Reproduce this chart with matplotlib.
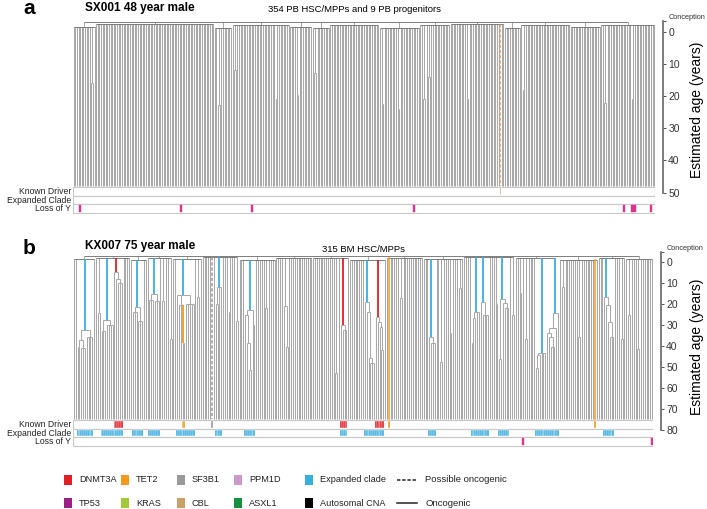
import matplotlib
matplotlib.use('Agg')
import matplotlib.pyplot as plt
from matplotlib.patches import Rectangle
from matplotlib.collections import LineCollection

plt.rcParams['font.family'] = ['Liberation Sans', 'DejaVu Sans']

# ---------------------------------------------------------------- data
GENE_COLORS = {'DNMT3A': '#E41E26', 'TET2': '#F39A1E', 'SF3B1': '#9A9A9A', 'PPM1D': '#C99AC9',
               'TP53': '#9C1F87', 'KRAS': '#A3C93A', 'CBL': '#C8A06A', 'ASXL1': '#168F3E',
               'Autosomal CNA': '#000000'}
EXPANDED_COLOR = '#3BAEE0'
LOY_COLOR = '#E0338C'

# Panel a : SX001
A_N_LEAVES = 363
A_SAMPLE_AGE = 48
A_CONCEPTION = -3.4
A_ROOT_AGE = -3.0
A_AXIS_MAX = 50
A_BLOCK_SIZES = [14, 74, 11, 36, 14, 11, 31, 25, 19, 34, 10, 31, 19, 34]
A_BLOCK_AGES = [-1.5, -2.5, -1.0, -2.0, -1.5, -1.0, -2.0, -1.0, -2.0, -2.5, -1.0, -2.0, -1.5, -2.0]
# (first leaf, number of leaves, coalescence age, annotation)
A_CLADES = [(11, 2, 16.0, 'grey'), (90, 2, 22.7, 'grey'), (100, 2, 12.0, 'grey'),
            (126, 2, 21.0, 'grey'), (139, 2, 19.6, 'grey'), (150, 2, 12.7, 'grey'),
            (192, 2, 22.6, 'grey'), (202, 2, 24.0, 'grey'), (218, 2, 21.0, 'grey'),
            (221, 2, 14.0, 'grey'), (245, 2, 21.0, 'grey'), (280, 2, 18.0, 'grey'),
            (331, 2, 22.0, 'grey'), (348, 2, 21.0, 'grey')]
A_SINGLE_DRIVERS = [(266, 'CBL', 'possible')]
A_LOSS_OF_Y = [4, 67, 111, 212, 343, 348, 349, 350, 360]

# Panel b : KX007
B_N_LEAVES = 315
B_SAMPLE_AGE = 75
B_CONCEPTION = -4.8
B_ROOT_AGE = -2.8
B_AXIS_MAX = 80
B_BLOCK_SIZES = [12, 19, 9, 14, 16, 20, 20, 20, 20, 20, 20, 22, 28, 24, 21, 15, 15]
B_BLOCK_AGES = [-1.2, -2.0, -0.8, -1.6, -1.2, -2.3, -0.8, -1.6, -2.0, -0.8, -1.6, -1.2,
                -2.3, -1.6, -0.8, -2.0, -1.2]
B_CLADES = [
    (2, 9, 32.5, 'expanded'), (2, 5, 37.5, 'grey'), (2, 2, 40.5, 'grey'), (4, 3, 41.0, 'grey'),
    (7, 4, 36.0, 'grey'),
    (13, 2, 24.5, 'grey'),
    (15, 7, 27.8, 'expanded'), (15, 3, 33.0, 'grey'), (18, 4, 30.0, 'grey'),
    (22, 5, 4.8, 'DNMT3A'), (23, 4, 8.0, 'grey'), (24, 3, 10.0, 'grey'),
    (32, 6, 21.4, 'expanded'), (32, 3, 24.0, 'grey'), (35, 3, 28.0, 'grey'),
    (41, 6, 15.4, 'expanded'), (41, 3, 18.0, 'grey'), (44, 3, 18.5, 'grey'),
    (48, 2, 18.7, 'grey'), (52, 2, 37.0, 'grey'),
    (56, 10, 15.9, 'expanded'), (57, 4, 20.7, 'grey'), (59, 2, 38.8, 'TET2'), (61, 5, 20.0, 'grey'),
    (67, 2, 17.0, 'grey'),
    (77, 4, 11.9, 'expanded'), (77, 2, 20.0, 'grey'),
    (84, 2, 24.0, 'grey'), (88, 2, 28.0, 'grey'),
    (93, 6, 23.0, 'expanded'), (93, 4, 25.6, 'grey'), (94, 3, 38.8, 'grey'), (95, 2, 51.6, 'grey'),
    (97, 2, 30.0, 'grey'),
    (104, 2, 22.0, 'grey'),
    (114, 3, 21.0, 'grey'), (115, 2, 40.6, 'grey'),
    (142, 2, 53.0, 'grey'),
    (145, 4, 30.0, 'DNMT3A'), (146, 3, 32.5, 'grey'),
    (158, 6, 19.0, 'expanded'), (159, 5, 24.0, 'grey'), (160, 4, 46.0, 'grey'), (161, 3, 48.0, 'grey'),
    (164, 5, 26.5, 'DNMT3A'), (165, 4, 28.5, 'grey'), (166, 3, 31.0, 'grey'), (167, 2, 42.0, 'grey'),
    (177, 2, 17.4, 'grey'),
    (193, 4, 36.0, 'expanded'), (194, 3, 38.5, 'grey'),
    (199, 2, 47.6, 'grey'), (204, 2, 34.0, 'grey'), (209, 2, 12.5, 'grey'),
    (216, 5, 23.8, 'expanded'), (216, 3, 26.8, 'grey'), (216, 2, 38.9, 'grey'),
    (221, 5, 19.0, 'expanded'), (222, 4, 25.6, 'grey'),
    (229, 2, 20.0, 'grey'),
    (231, 6, 17.8, 'expanded'), (231, 2, 46.5, 'grey'), (233, 4, 19.7, 'grey'), (234, 3, 22.0, 'grey'),
    (238, 2, 25.6, 'grey'), (242, 2, 14.7, 'grey'), (245, 2, 36.9, 'grey'),
    (251, 6, 43.5, 'expanded'), (251, 3, 44.4, 'grey'), (251, 2, 50.6, 'grey'),
    (257, 7, 24.5, 'expanded'), (257, 6, 31.6, 'grey'), (257, 5, 34.0, 'grey'), (258, 4, 36.0, 'grey'),
    (259, 3, 40.6, 'grey'),
    (265, 2, 11.9, 'grey'), (274, 2, 36.0, 'grey'),
    (288, 6, 16.7, 'expanded'), (289, 5, 20.7, 'grey'), (290, 4, 28.6, 'grey'), (291, 3, 36.0, 'grey'),
    (297, 2, 37.0, 'grey'), (301, 2, 25.2, 'grey'), (306, 2, 41.6, 'grey'),
]
B_SINGLE_DRIVERS = [(75, 'SF3B1', 'possible'), (171, 'TET2', 'oncogenic'), (283, 'TET2', 'oncogenic')]
B_LOSS_OF_Y = [244, 314]

LEGEND_ROW1 = ['DNMT3A', 'TET2', 'SF3B1', 'PPM1D', 'Expanded clade', 'Possible oncogenic']
LEGEND_ROW2 = ['TP53', 'KRAS', 'CBL', 'ASXL1', 'Autosomal CNA', 'Oncogenic']

# ---------------------------------------------------------------- figure
W, H = 707, 509
fig = plt.figure(figsize=(W / 100, H / 100), dpi=100)
GREY = '#a9a9a9'
GREY_TOP = '#6a6a6a'


def kind_color(kind):
    if kind == 'expanded':
        return EXPANDED_COLOR
    return GENE_COLORS.get(kind)


def draw_panel(box, zero_px, px_per_year, n, sample_age, conception, root_age, axis_max,
               block_sizes, block_ages, clades, singles, loss_of_y):
    x0, x1, y0, y1 = box
    ax = fig.add_axes([x0 / W, 1 - y1 / H, (x1 - x0) / W, (y1 - y0) / H])
    to_age = lambda py: (py - zero_px) / px_per_year
    ax.set_xlim(-0.5, n - 0.5)
    ax.set_ylim(to_age(y1), to_age(y0))

    # ---- build tree nodes
    nodes = [dict(lo=0, hi=n - 1, age=root_age, kind='grey')]
    s = 0
    for size, age in zip(block_sizes, block_ages):
        nodes.append(dict(lo=s, hi=s + size - 1, age=age, kind='grey'))
        s += size
    for first, size, age, kind in clades:
        nodes.append(dict(lo=first, hi=first + size - 1, age=age, kind=kind))
    span = lambda nd: nd['hi'] - nd['lo']
    for i, nd in enumerate(nodes):
        best = None
        for j, o in enumerate(nodes):
            if j != i and o['lo'] <= nd['lo'] and o['hi'] >= nd['hi'] and span(o) > span(nd):
                if best is None or span(nodes[best]) > span(o):
                    best = j
        nd['parent'] = best
    leaf_parent = []
    for leaf in range(n):
        best = None
        for j, nd in enumerate(nodes):
            if nd['lo'] <= leaf <= nd['hi'] and (best is None or span(nodes[best]) > span(nd)):
                best = j
        leaf_parent.append(best)
    for i in sorted(range(len(nodes)), key=lambda k: span(nodes[k])):
        nd = nodes[i]
        xs = [lf for lf in range(nd['lo'], nd['hi'] + 1) if leaf_parent[lf] == i]
        xs += [nodes[j]['x'] for j in range(len(nodes)) if nodes[j]['parent'] == i]
        nd['x'] = (min(xs) + max(xs)) / 2
        nd['xmin'], nd['xmax'] = min(xs), max(xs)

    grey_segs, top_segs, col_segs, col_cols = [], [], [], []
    for nd in nodes:
        hseg = [(nd['xmin'], nd['age']), (nd['xmax'], nd['age'])]
        (top_segs if nd['age'] < 0 else grey_segs).append(hseg)
        if nd['parent'] is None:
            continue
        seg = [(nd['x'], nodes[nd['parent']]['age']), (nd['x'], nd['age'])]
        c = kind_color(nd['kind'])
        if c is None:
            grey_segs.append(seg)
        else:
            col_segs.append(seg)
            col_cols.append(c)
    single_map = {lf: (g, st) for lf, g, st in singles}
    for leaf in range(n):
        seg = [(leaf, nodes[leaf_parent[leaf]]['age']), (leaf, sample_age)]
        if leaf in single_map:
            g, st = single_map[leaf]
            ax.plot([seg[0][0], seg[1][0]], [seg[0][1], seg[1][1]], color=GENE_COLORS[g],
                    lw=1.1, ls=(0, (2.2, 1.2)) if st == 'possible' else '-', zorder=4)
        else:
            grey_segs.append(seg)
    ax.add_collection(LineCollection(grey_segs, colors=GREY, linewidths=0.75, zorder=2))
    ax.add_collection(LineCollection(top_segs, colors=GREY_TOP, linewidths=0.6, zorder=2))
    ax.add_collection(LineCollection(col_segs, colors=col_cols, linewidths=1.3, zorder=3))

    # ---- tracks
    top_px = zero_px + sample_age * px_per_year + 1.2
    row_px = 8.4
    rows = []
    for r in range(3):
        a0 = to_age(top_px + r * row_px)
        a1 = to_age(top_px + (r + 1) * row_px)
        rows.append((a0, a1))
        ax.add_patch(Rectangle((-0.5, a0), n, a1 - a0, facecolor='white',
                               edgecolor='#c8c8c8', lw=0.8, zorder=1))
    driver_cells, expanded_cells = {}, set()
    for first, size, age, kind in clades:
        if kind != 'grey':
            for lf in range(first, first + size):
                expanded_cells.add(lf)
                if kind in GENE_COLORS:
                    driver_cells[lf] = GENE_COLORS[kind]
    for lf, g, st in singles:
        driver_cells[lf] = GENE_COLORS[g]
    pad = 0.1
    for lf, c in driver_cells.items():
        a0, a1 = rows[0]
        w = 1.0 if lf not in single_map else 0.8
        ax.add_patch(Rectangle((lf - w / 2, a0 + pad * (a1 - a0)), w, (1 - 2 * pad) * (a1 - a0),
                               facecolor=c, edgecolor='white', lw=0.25, zorder=3))
    for lf in expanded_cells:
        a0, a1 = rows[1]
        ax.add_patch(Rectangle((lf - 0.5, a0 + pad * (a1 - a0)), 1.0, (1 - 2 * pad) * (a1 - a0),
                               facecolor=EXPANDED_COLOR, edgecolor='white', lw=0.25, zorder=3))
    for lf in loss_of_y:
        a0, a1 = rows[2]
        ax.add_patch(Rectangle((lf - 0.5, a0 + pad * (a1 - a0)), 1.0, (1 - 2 * pad) * (a1 - a0),
                               facecolor=LOY_COLOR, edgecolor=LOY_COLOR, lw=0.3, zorder=3))
    for (a0, a1), lab in zip(rows, ['Known Driver', 'Expanded Clade', 'Loss of Y']):
        ax.annotate(lab, xy=(0, (a0 + a1) / 2), xycoords=('axes fraction', 'data'),
                    xytext=(-1.5, 0), textcoords='offset points', ha='right', va='center',
                    fontsize=6.2, color='#222222')

    # ---- axis
    for sp in ['left', 'top', 'bottom']:
        ax.spines[sp].set_visible(False)
    ax.spines['right'].set_position(('outward', 6))
    ax.spines['right'].set_bounds(conception, axis_max)
    ax.spines['right'].set_color('#666666')
    ax.spines['right'].set_linewidth(1.2)
    ax.set_xticks([])
    ax.yaxis.tick_right()
    ticks = [conception] + list(range(0, axis_max + 1, 10))
    ax.set_yticks(ticks)
    ax.set_yticklabels(['Conception'] + [str(t) for t in ticks[1:]])
    ax.tick_params(axis='y', length=2, width=0.6, pad=1.5, colors='#333333', labelsize=7.5)
    ax.get_yticklabels()[0].set_fontsize(5.3)
    ax.get_yticklabels()[0].set_verticalalignment('bottom')
    return ax


draw_panel((73, 655, 18, 214), 31.7, 3.22, A_N_LEAVES, A_SAMPLE_AGE, A_CONCEPTION, A_ROOT_AGE,
           A_AXIS_MAX, A_BLOCK_SIZES, A_BLOCK_AGES, A_CLADES, A_SINGLE_DRIVERS, A_LOSS_OF_Y)
draw_panel((73, 653, 249, 448), 261.7, 2.1, B_N_LEAVES, B_SAMPLE_AGE, B_CONCEPTION, B_ROOT_AGE,
           B_AXIS_MAX, B_BLOCK_SIZES, B_BLOCK_AGES, B_CLADES, B_SINGLE_DRIVERS, B_LOSS_OF_Y)


def ftext(x, y, s, **kw):
    fig.text(x / W, 1 - y / H, s, **kw)


ftext(23, 9, 'a', fontsize=15, fontweight='bold', va='center')
ftext(85, 8, 'SX001 48 year male', fontsize=8.5, fontweight='bold', va='center')
ftext(268, 10, '354 PB HSC/MPPs and 9 PB progenitors', fontsize=6.8, va='center')
ftext(23, 248, 'b', fontsize=15, fontweight='bold', va='center')
ftext(85, 246, 'KX007 75 year male', fontsize=8.5, fontweight='bold', va='center')
ftext(322, 249, '315 BM HSC/MPPs', fontsize=6.8, va='center')
ftext(697, 110, 'Estimated age (years)', fontsize=10, rotation=90, ha='center', va='center')
ftext(697, 347, 'Estimated age (years)', fontsize=10, rotation=90, ha='center', va='center')

# ---- legend
leg = fig.add_axes([0, 0, 1, 1])
leg.set_xlim(0, W)
leg.set_ylim(H, 0)
leg.axis('off')
col_x = [64, 121, 177, 234, 305, 397]
row_y = [480, 503]
for ry, items in zip(row_y, [LEGEND_ROW1, LEGEND_ROW2]):
    for cx, name in zip(col_x, items):
        if name in ('Possible oncogenic', 'Oncogenic'):
            leg.plot([cx, cx + 20], [ry, ry], color='#222222', lw=1.1,
                     ls=(0, (2.2, 1.2)) if name.startswith('Possible') else '-')
            leg.text(cx + 28, ry, name, fontsize=6.8, va='center', color='#222222')
        else:
            c = EXPANDED_COLOR if name == 'Expanded clade' else GENE_COLORS[name]
            leg.add_patch(Rectangle((cx, ry - 5), 8, 10, facecolor=c, edgecolor='none'))
            leg.text(cx + 15, ry, name, fontsize=6.6, va='center', color='#222222')

fig.savefig('out.png', dpi=100)
